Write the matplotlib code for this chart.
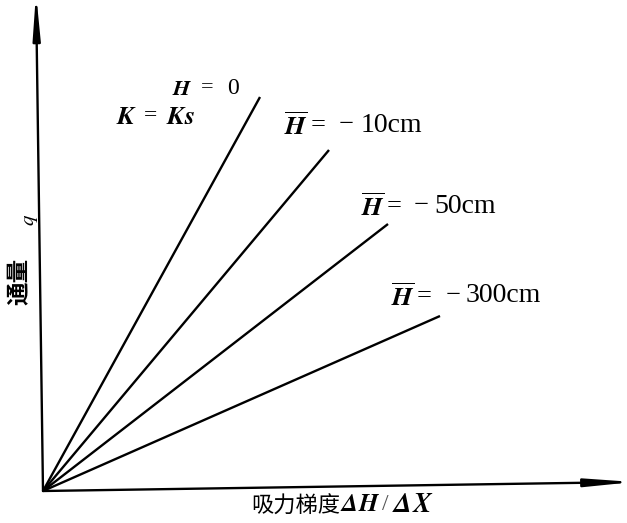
import matplotlib
matplotlib.use("Agg")
import matplotlib.pyplot as plt

plt.rcParams['mathtext.fontset'] = 'stix'

# Data: end points of the four flux lines (gradient, flux), all starting at origin
series_labels = ["H=0", "-10cm", "-50cm", "-300cm"]
grad_end = [2.17, 2.86, 3.45, 3.97]
flux_end = [3.94, 3.41, 2.67, 1.75]

W, H = 627, 523
fig = plt.figure(figsize=(W / 100, H / 100), dpi=100)
ox, oy = 43, 491
xmax, ymax = 5.80, 4.86
ax = fig.add_axes([ox / W, (H - oy) / H, xmax * 100 / W, ymax * 100 / H])
ax.set_xlim(0, xmax)
ax.set_ylim(0, ymax)
ax.axis('off')

def P(px, py):
    return ((px - ox) / 100.0, (oy - py) / 100.0)

for gx, fy in zip(grad_end, flux_end):
    ax.plot([0, gx], [0, fy], color='black', lw=1.7, solid_capstyle='butt', clip_on=False)

# axes arrows (slightly skewed like the scanned original)
ax.annotate('', xy=P(36, -7), xytext=(0, 0), xycoords='data',
            arrowprops=dict(arrowstyle='-|>,head_length=2.6,head_width=0.22',
                            color='black', lw=1.7, shrinkA=0, shrinkB=0),
            annotation_clip=False)
ax.annotate('', xy=P(634, 482), xytext=(0, 0), xycoords='data',
            arrowprops=dict(arrowstyle='-|>,head_length=2.8,head_width=0.24',
                            color='black', lw=1.7, shrinkA=0, shrinkB=0),
            annotation_clip=False)

serif = 'Liberation Serif'
cjk = ['Noto Sans CJK SC', 'DejaVu Sans']

# H = 0 and K = Ks
ax.text(*P(172, 89), r'$\mathbfit{H}$', fontsize=16, va='center', ha='left')
ax.text(*P(201, 88), '=', fontsize=16, family=serif, va='center', ha='left')
ax.text(*P(227, 88), '0', fontsize=17, family=serif, va='center', ha='left')
ax.text(*P(116, 117), r'$\mathbfit{K}$', fontsize=19, va='center', ha='left')
ax.text(*P(144, 116), '=', fontsize=17, family=serif, va='center', ha='left')
ax.text(*P(166, 117), r'$\mathbfit{Ks}$', fontsize=19, va='center', ha='left')

# H-bar labels: (x of H, x of '=', x of minus, x of number, y, text)
hbar = [(284, 311, 339, 361, 125, '10cm'),
        (361, 387, 414, 434, 206, '50cm'),
        (391, 417, 446, 466, 296, '300cm')]
for hx, ex, mx, nx, py, s in hbar:
    ax.text(*P(hx, py + 2), r'$\overline{\mathbfit{H}}$', fontsize=19, va='center', ha='left')
    ax.text(*P(ex, py), '=', fontsize=19, family=serif, va='center', ha='left')
    ax.text(*P(mx, py), '−', fontsize=19, family=serif, va='center', ha='left')
    ax.text(*P(nx, py), s, fontsize=20, family=serif, va='center', ha='left')

# y label
ax.text(*P(20, 281), '通量', fontsize=17, family=cjk, rotation=90, va='center', ha='center',
        fontweight='bold')
ax.text(*P(30, 220), r'$\mathit{q}$', fontsize=15, rotation=90, va='center', ha='center')

# x label
ax.text(*P(251, 506), '吸力梯度', fontsize=16, family=cjk, va='center', ha='left')
ax.text(*P(340, 504), r'$\mathbfit{\Delta H}$', fontsize=18, va='center', ha='left')
ax.text(*P(382, 504), '/', fontsize=17, family=serif, va='center', ha='left', color='#555555')
ax.text(*P(392, 504), r'$\mathbfit{\Delta X}$', fontsize=20, va='center', ha='left')

fig.savefig('out.png', dpi=100)
